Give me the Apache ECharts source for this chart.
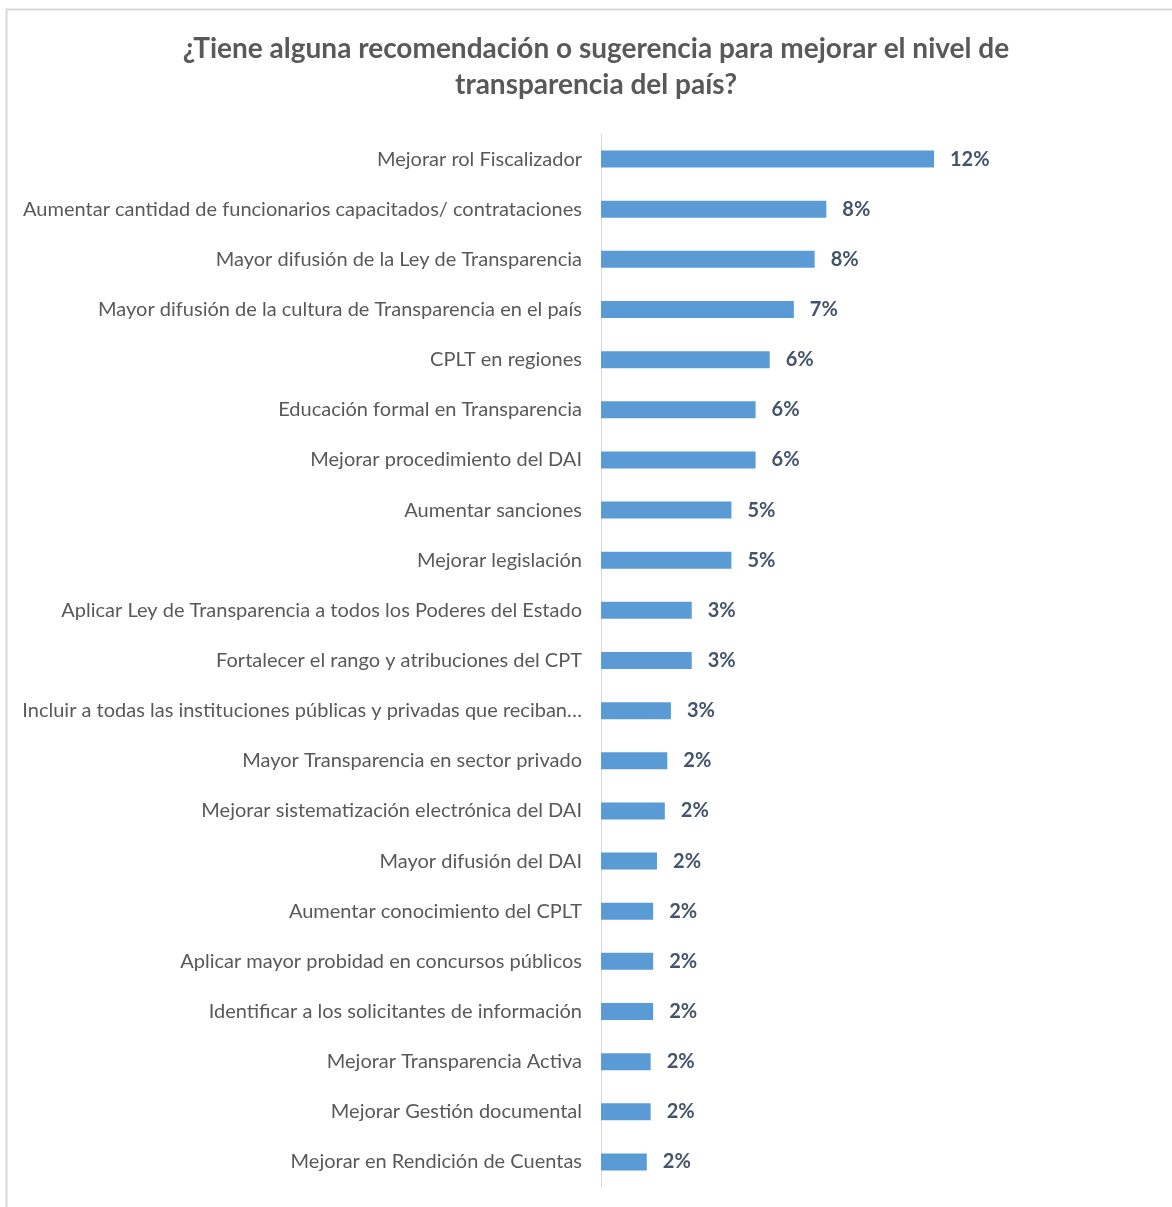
<!DOCTYPE html>
<html>
<head>
<meta charset="utf-8">
<script src="https://cdn.jsdelivr.net/npm/echarts@6/dist/echarts.min.js"></script>
<style>
  html, body { margin: 0; padding: 0; background: #fff; }
  #chart { width: 1172px; height: 1207px; }
</style>
</head>
<body>
<div id="chart"></div>
<script>
// categories, top to bottom
const categorias = [
  'Mejorar rol Fiscalizador',
  'Aumentar cantidad de funcionarios capacitados/ contrataciones',
  'Mayor difusión de la Ley de Transparencia',
  'Mayor difusión de la cultura de Transparencia en el país',
  'CPLT en regiones',
  'Educación formal en Transparencia',
  'Mejorar procedimiento del DAI',
  'Aumentar sanciones',
  'Mejorar legislación',
  'Aplicar Ley de Transparencia a todos los Poderes del Estado',
  'Fortalecer el rango y atribuciones del CPT',
  'Incluir a todas las instituciones públicas y privadas que reciban…',
  'Mayor Transparencia en sector privado',
  'Mejorar sistematización electrónica del DAI',
  'Mayor difusión del DAI',
  'Aumentar conocimiento del CPLT',
  'Aplicar mayor probidad en concursos públicos',
  'Identificar a los solicitantes de información',
  'Mejorar Transparencia Activa',
  'Mejorar Gestión documental',
  'Mejorar en Rendición de Cuentas'
]
// percent
const porcentajes = [
  12.0, 8.12, 7.70, 6.95, 6.08, 5.57, 5.57, 4.70, 4.70, 3.27, 3.27,
  2.52, 2.39, 2.30, 2.02, 1.88, 1.88, 1.88, 1.79, 1.79, 1.65
]

const myChart = echarts.init(document.getElementById('chart'))
const option = {
  backgroundColor: '#fff',
  textStyle: { fontFamily: 'Lato' },
  title: {
    text: '¿Tiene alguna recomendación o sugerencia para mejorar el nivel de\ntransparencia del país?',
    left: 591,
    top: 26,
    textAlign: 'center',
    textStyle: {
      fontFamily: 'Lato',
      fontSize: 28,
      fontWeight: 'bold',
      color: '#595959',
      lineHeight: 36
    }
  },
  graphic: [{
    type: 'rect',
    left: 4,
    top: 7,
    shape: { width: 1300, height: 1300 },
    style: { fill: 'none', stroke: '#d9d9d9', lineWidth: 2 },
    silent: true
  }],
  grid: { left: 601, right: 16, top: 134, bottom: 20 },
  xAxis: {
    type: 'value',
    min: 0,
    max: 20,
    show: false,
    splitLine: { show: false }
  },
  yAxis: {
    type: 'category',
    inverse: true,
    data: categorias,
    axisLine: { show: true, lineStyle: { color: '#d9d9d9', width: 1 } },
    axisTick: { show: false },
    axisLabel: {
      margin: 19,
      fontFamily: 'Lato',
      fontSize: 20,
      color: '#595959'
    }
  },
  series: [{
    type: 'bar',
    data: porcentajes,
    barWidth: 17,
    itemStyle: { color: '#5b9bd5' },
    label: {
      show: true,
      position: 'right',
      distance: 16,
      fontFamily: 'Lato',
      fontSize: 20,
      fontWeight: 'bold',
      color: '#44546a',
      formatter: p => Math.round(p.value) + '%'
    },
    animation: false
  }],
  animation: false
}
option && myChart.setOption(option)
</script>
</body>
</html>
